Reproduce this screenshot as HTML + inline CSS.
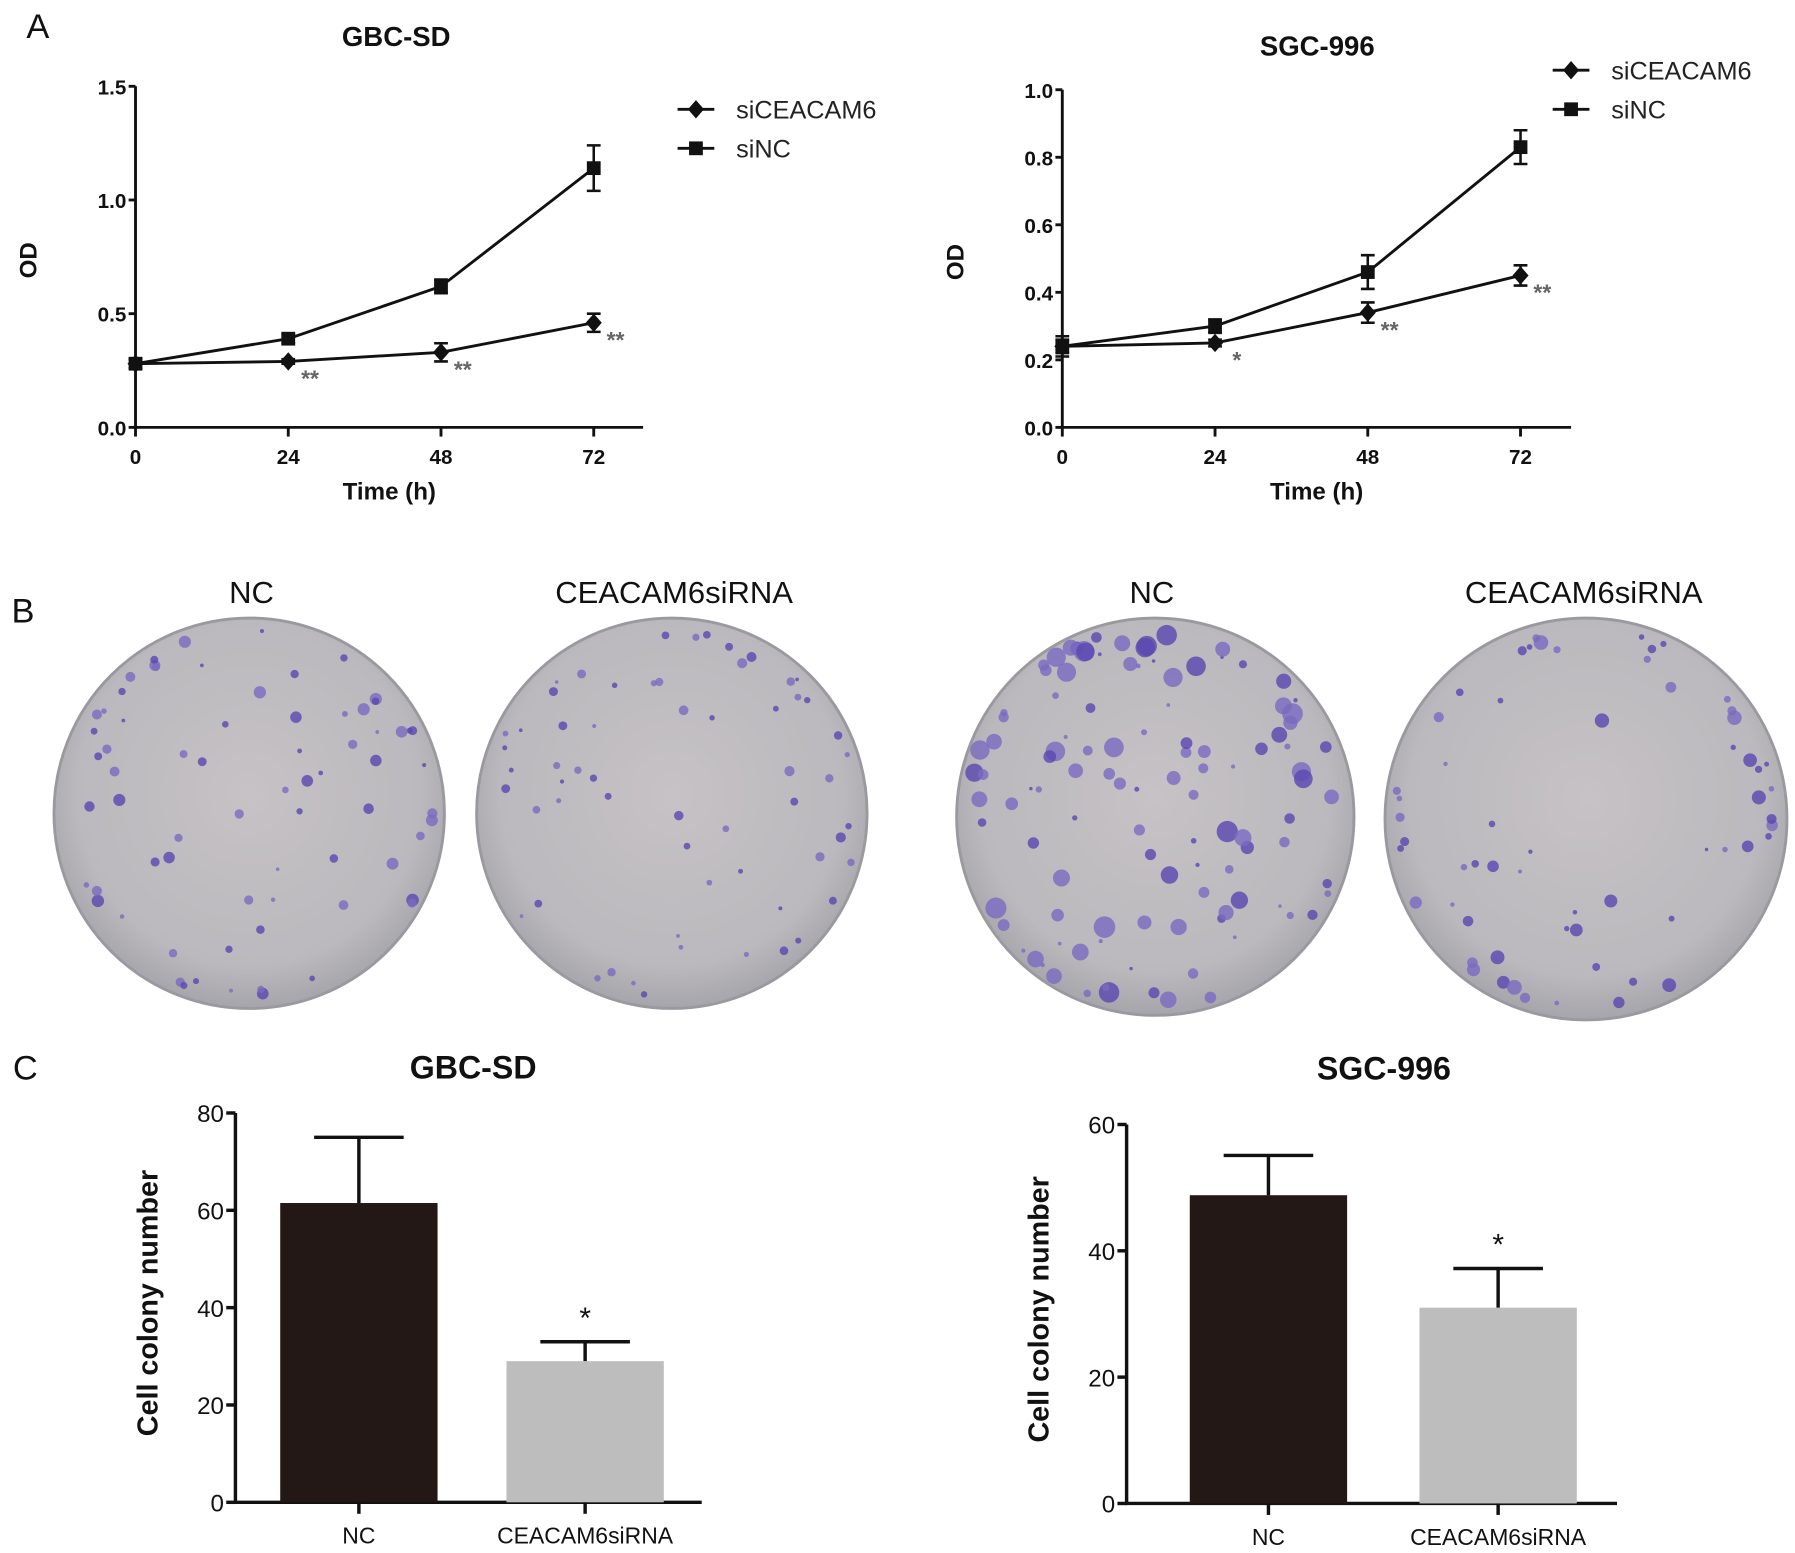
<!DOCTYPE html>
<html><head><meta charset="utf-8"><style>
html,body{margin:0;padding:0;background:#fff}
svg{display:block}
text{font-family:"Liberation Sans",Arial,sans-serif}
</style></head><body>
<svg id="fig" width="1795" height="1553" viewBox="0 0 1563 1352">
<defs>
<radialGradient id="dishg" cx="50%" cy="45%" r="55%">
<stop offset="0%" stop-color="#c6c2c5"/><stop offset="80%" stop-color="#bbb9bd"/><stop offset="100%" stop-color="#a6a5ab"/>
</radialGradient>
</defs>
<g id="root"></g>
</svg>
<script>
// ---- Panel A data ----
const timeCats = [0, 24, 48, 72];
const gbcSiNC = [0.28, 0.39, 0.62, 1.14];
const gbcSiNCErr = [0.02, 0.02, 0.03, 0.10];
const gbcSiCEA = [0.28, 0.29, 0.33, 0.46];
const gbcSiCEAErr = [0.02, 0.01, 0.04, 0.04];
const gbcTicks = [0.0, 0.5, 1.0, 1.5];
const gbcStars = ["", "**", "**", "**"];
const sgcSiNC = [0.24, 0.30, 0.46, 0.83];
const sgcSiNCErr = [0.03, 0.02, 0.05, 0.05];
const sgcSiCEA = [0.24, 0.25, 0.34, 0.45];
const sgcSiCEAErr = [0.02, 0.01, 0.03, 0.03];
const sgcTicks = [0.0, 0.2, 0.4, 0.6, 0.8, 1.0];
const sgcStars = ["", "*", "**", "**"];
// ---- Panel C data ----
const barCats = ["NC", "CEACAM6siRNA"];
const gbcColony = [61.5, 29];
const gbcColonyErr = [13.5, 4];
const gbcColonyTicks = [0, 20, 40, 60, 80];
const sgcColony = [48.8, 31];
const sgcColonyErr = [6.3, 6.2];
const sgcColonyTicks = [0, 20, 40, 60];

const NS = "http://www.w3.org/2000/svg";
const root = document.getElementById('root');
function el(tag, attrs, parent, txt) {
  const e = document.createElementNS(NS, tag);
  for (const k in attrs) e.setAttribute(k, attrs[k]);
  if (txt !== undefined) e.textContent = txt;
  (parent || root).appendChild(e);
  return e;
}
function label(txt, x, y, size, weight, anchor, name, parent, fill) {
  const t = el('text', {x: x, y: y, 'font-size': size, 'font-weight': weight, 'text-anchor': anchor || 'middle', fill: fill || '#111'}, parent, txt);
  
  
  return t;
}

label("A", 33, 33, 30, 'normal', 'middle', 'panel-a-label');
label("B", 20, 542, 30, 'normal', 'middle', 'panel-b-label');
label("C", 22, 940, 30, 'normal', 'middle', 'panel-c-label');

function lineChart(cfg) {
  const g = el('g', {});
  
  
  const ymax = cfg.ticks[cfg.ticks.length - 1];
  const yS = v => cfg.y0 - (v / ymax) * (cfg.y0 - cfg.yTop);
  const xS = t => cfg.x0 + (t / 72) * (cfg.x72 - cfg.x0);
  const ax = el('path', {d: `M${cfg.x0} ${cfg.yTop} V${cfg.y0} H${cfg.xEnd}`, stroke: '#111', 'stroke-width': 2.5, fill: 'none'}, g);
  
  
  cfg.ticks.forEach(v => {
    el('line', {x1: cfg.x0 - 6, x2: cfg.x0, y1: yS(v), y2: yS(v), stroke: '#111', 'stroke-width': 2.5}, g);
    label(v.toFixed(1), cfg.x0 - 8, yS(v) + 7, 18, 'bold', 'end', 'y-tick-label', g);
  });
  timeCats.forEach(t => {
    el('line', {x1: xS(t), x2: xS(t), y1: cfg.y0, y2: cfg.y0 + 8, stroke: '#111', 'stroke-width': 2.5}, g);
    label(String(t), xS(t), cfg.y0 + 32, 18, 'bold', 'middle', 'x-tick-label', g);
  });
  label(cfg.title, cfg.titleX, cfg.titleY, 24, 'bold', 'middle', 'chart-title', g);
  label("Time (h)", (cfg.x0 + cfg.xEnd) / 2, cfg.y0 + 63, 21, 'bold', 'middle', 'x-axis-title', g);
  const yl = label("OD", 0, 0, 21, 'bold', 'middle', 'y-axis-title', g);
  yl.setAttribute('transform', `translate(${cfg.x0 - 86},${(cfg.y0 + cfg.yTop) / 2 + 3}) rotate(-90)`);
  function series(vals, errs, shape, name) {
    const sg = el('g', {}, g);
    
    
    el('polyline', {points: vals.map((v, i) => `${xS(timeCats[i])},${yS(v)}`).join(' '), stroke: '#111', 'stroke-width': 2.5, fill: 'none'}, sg);
    vals.forEach((v, i) => {
      const x = xS(timeCats[i]), y = yS(v), e1 = yS(v + errs[i]), e2 = yS(v - errs[i]);
      el('path', {d: `M${x} ${e1} V${e2} M${x - 6} ${e1} H${x + 6} M${x - 6} ${e2} H${x + 6}`, stroke: '#111', 'stroke-width': 2.2, fill: 'none'}, sg);
      const m = shape === 'sq' ? el('rect', {x: x - 6, y: y - 6, width: 12, height: 12, fill: '#111'}, sg)
        : el('path', {d: `M${x} ${y - 8} L${x + 7} ${y} L${x} ${y + 8} L${x - 7} ${y} Z`, fill: '#111'}, sg);
      
      
    });
  }
  series(cfg.nc, cfg.ncErr, 'sq', 'sinc-series');
  series(cfg.cea, cfg.ceaErr, 'dia', 'siceacam6-series');
  cfg.stars.forEach((s, i) => {
    if (!s) return;
    label(s, xS(timeCats[i]) + 19, yS(cfg.cea[i]) + 22, 20, 'bold', 'middle', 'significance-mark', g, '#666');
  });
  const lg = el('g', {}, g);
  
  
  const lx = cfg.legX, ly = cfg.legY;
  el('line', {x1: lx - 16, x2: lx + 16, y1: ly, y2: ly, stroke: '#111', 'stroke-width': 2.5}, lg);
  el('path', {d: `M${lx} ${ly - 8} L${lx + 7} ${ly} L${lx} ${ly + 8} L${lx - 7} ${ly} Z`, fill: '#111'}, lg);
  label("siCEACAM6", lx + 35, ly + 8, 22, 'normal', 'start', 'legend-entry-siceacam6', lg, '#222');
  el('line', {x1: lx - 16, x2: lx + 16, y1: ly + 34, y2: ly + 34, stroke: '#111', 'stroke-width': 2.5}, lg);
  el('rect', {x: lx - 6, y: ly + 28, width: 12, height: 12, fill: '#111'}, lg);
  label("siNC", lx + 35, ly + 42, 22, 'normal', 'start', 'legend-entry-sinc', lg, '#222');
}

lineChart({name: 'gbc-sd-growth-chart', title: 'GBC-SD', titleX: 345, titleY: 40, x0: 118, x72: 517, xEnd: 560, y0: 372, yTop: 75,
  ticks: gbcTicks, nc: gbcSiNC, ncErr: gbcSiNCErr, cea: gbcSiCEA, ceaErr: gbcSiCEAErr, stars: gbcStars, legX: 606, legY: 95});
lineChart({name: 'sgc-996-growth-chart', title: 'SGC-996', titleX: 1147, titleY: 48, x0: 925, x72: 1324, xEnd: 1368, y0: 372, yTop: 78,
  ticks: sgcTicks, nc: sgcSiNC, ncErr: sgcSiNCErr, cea: sgcSiCEA, ceaErr: sgcSiCEAErr, stars: sgcStars, legX: 1368, legY: 61});

// ---- Panel B dishes (decorative photos) ----
const dishLabels = ["NC", "CEACAM6siRNA", "NC", "CEACAM6siRNA"];
const dishes = [[217, 708, 170, 70, 4], [585, 708, 170, 60, 3], [1006, 711, 173, 110, 8], [1381, 713, 175, 60, 5]];
const labelX = [219, 587, 1003, 1379];
let seed = 7;
function rnd() { seed = (seed * 16807) % 2147483647; return seed / 2147483647; }
dishes.forEach((d, k) => {
  const [cx, cy, r, n, big] = d;
  const g = el('g', {});
  
  
  label(dishLabels[k], labelX[k], 525, 27, 'normal', 'middle', 'dish-label', g);
  el('circle', {cx: cx, cy: cy, r: r, fill: 'url(#dishg)', stroke: '#9a99a0', 'stroke-width': 2.5}, g);
  for (let i = 0; i < n; i++) {
    const a = rnd() * Math.PI * 2, rr = Math.sqrt(rnd()) * (r - 10);
    const edge = rnd() < 0.35;
    const R = edge ? r - 8 - rnd() * 12 : rr;
    const s = 1.5 + rnd() * big;
    el('circle', {cx: cx + Math.cos(a) * R, cy: cy + Math.sin(a) * R, r: s, fill: rnd() < 0.5 ? '#5a47b0' : '#7b6ac0', opacity: 0.8}, g);
  }
});

// ---- Panel C bar charts ----
function barChart(cfg) {
  const g = el('g', {});
  
  
  const ymax = cfg.ticks[cfg.ticks.length - 1];
  const yS = v => cfg.y0 - (v / ymax) * (cfg.y0 - cfg.yTop);
  const ax = el('path', {d: `M${cfg.x0} ${cfg.yTop} V${cfg.y0} H${cfg.xEnd}`, stroke: '#111', 'stroke-width': 3, fill: 'none'}, g);
  
  
  cfg.ticks.forEach(v => {
    el('line', {x1: cfg.x0 - 8, x2: cfg.x0, y1: yS(v), y2: yS(v), stroke: '#111', 'stroke-width': 3}, g);
    label(String(v), cfg.x0 - 10, yS(v) + 8, 21, 'normal', 'end', 'y-tick-label', g);
  });
  label(cfg.title, cfg.titleX, cfg.y0 - 369, 28, 'bold', 'middle', 'chart-title', g);
  const yl = label("Cell colony number", 0, 0, 25, 'bold', 'middle', 'y-axis-title', g);
  yl.setAttribute('transform', `translate(${cfg.x0 - 68},${(cfg.y0 + cfg.yTop) / 2 - 4}) rotate(-90)`);
  const colors = ['#231815', '#bdbdbd'];
  cfg.vals.forEach((v, i) => {
    const x = cfg.barX[i], w = 137, c = x + w / 2;
    const b = el('rect', {x: x, y: yS(v), width: w, height: cfg.y0 - yS(v), fill: colors[i]}, g);
    
    
    el('path', {d: `M${c} ${yS(v)} V${yS(v + cfg.err[i])} M${c - 39} ${yS(v + cfg.err[i])} H${c + 39}`, stroke: '#111', 'stroke-width': 3, fill: 'none'}, g);
    el('line', {x1: c, x2: c, y1: cfg.y0, y2: cfg.y0 + 10, stroke: '#111', 'stroke-width': 3}, g);
    label(barCats[i], c, cfg.y0 + 36, 20, 'normal', 'middle', 'x-tick-label', g);
    if (i === 1) label("*", c, yS(v + cfg.err[i]) - 12, 26, 'normal', 'middle', 'significance-mark', g);
  });
}
barChart({name: 'gbc-sd-colony-chart', title: 'GBC-SD', titleX: 412, x0: 205, xEnd: 611, y0: 1308, yTop: 969,
  ticks: gbcColonyTicks, vals: gbcColony, err: gbcColonyErr, barX: [244, 441]});
barChart({name: 'sgc-996-colony-chart', title: 'SGC-996', titleX: 1205, x0: 981, xEnd: 1408, y0: 1309, yTop: 979,
  ticks: sgcColonyTicks, vals: sgcColony, err: sgcColonyErr, barX: [1036, 1236]});
</script>
</body></html>
